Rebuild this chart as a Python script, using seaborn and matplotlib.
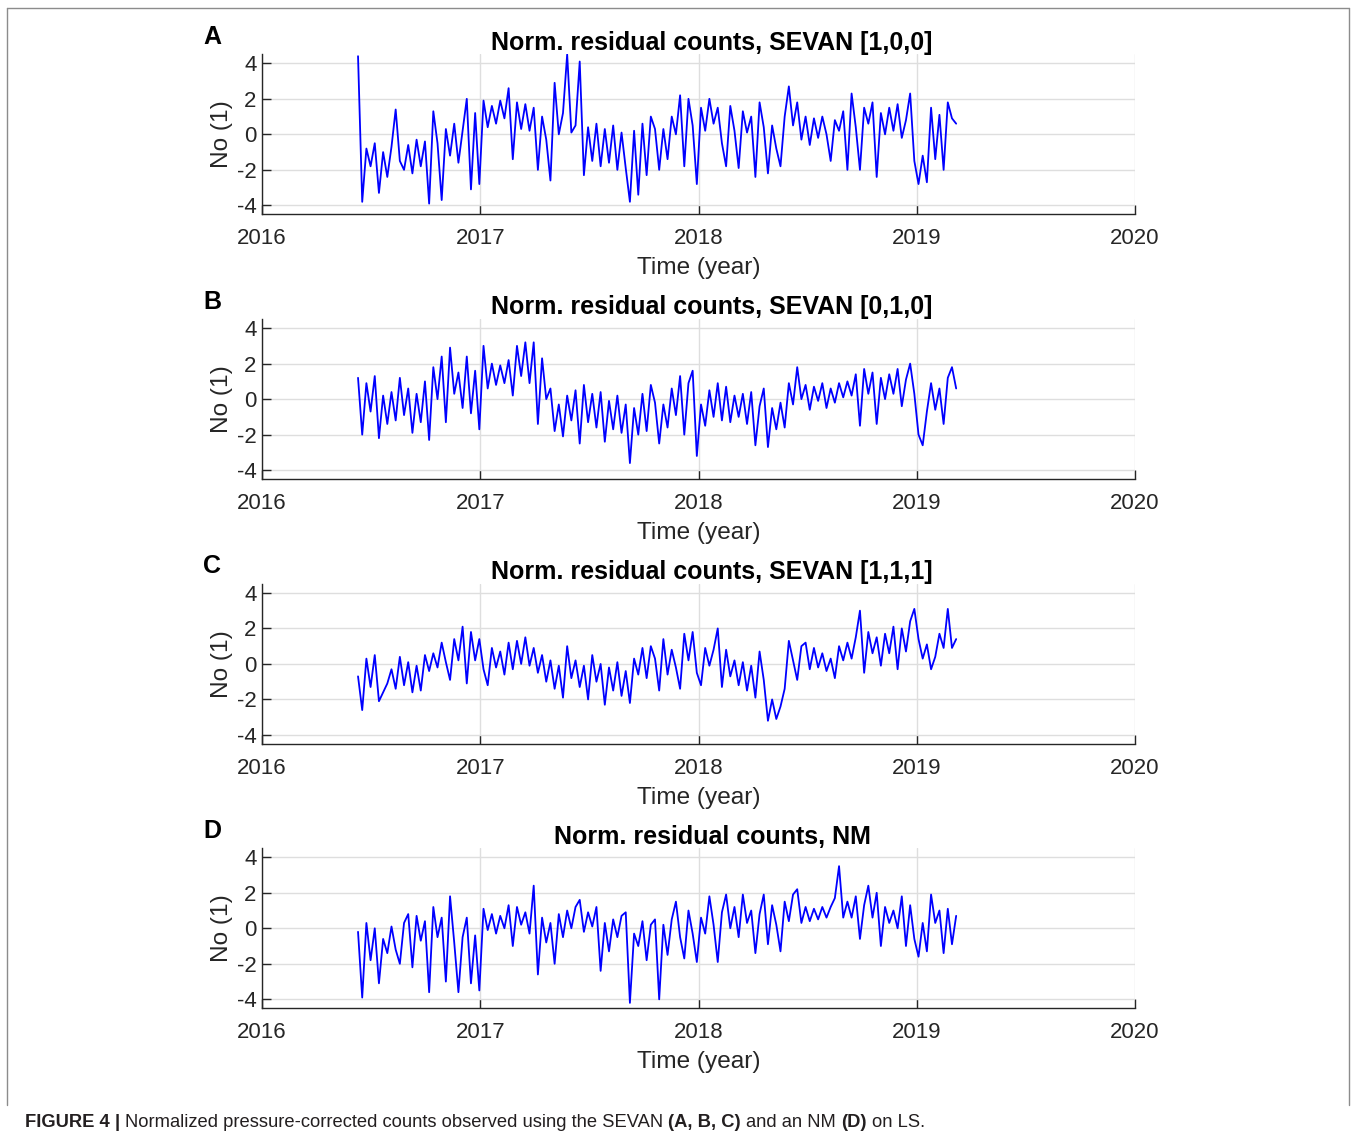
import numpy as np
import matplotlib
matplotlib.use('Agg')
import matplotlib.pyplot as plt
import seaborn as sns
from matplotlib import font_manager
from matplotlib.lines import Line2D

# weekly samples, first one mid June 2016
start_year = 2016.44
week = 7 / 365.25

sevan_100 = [
    4.4, -3.8, -0.8, -1.8, -0.5, -3.3, -1.0, -2.4, -0.7, 1.4, -1.5, -2.0,
    -0.6, -2.2, -0.3, -1.8, -0.4, -3.9, 1.3, -0.5, -3.7, 0.3, -1.2, 0.6,
    -1.6, 0.2, 2.0, -3.1, 1.2, -2.8, 1.9, 0.4, 1.6, 0.6, 1.9, 0.9,
    2.6, -1.4, 1.8, 0.3, 1.7, 0.2, 1.5, -2.0, 1.0, -0.3, -2.6, 2.9,
    0.0, 1.2, 4.5, 0.1, 0.5, 4.1, -2.3, 0.4, -1.5, 0.6, -1.8, 0.3,
    -1.6, 0.5, -2.0, 0.1, -1.9, -3.8, 0.2, -3.4, 0.6, -2.3, 1.0, 0.3,
    -2.0, 0.3, -1.4, 1.0, 0.0, 2.2, -1.8, 2.0, 0.5, -2.8, 1.5, 0.2,
    2.0, 0.6, 1.5, -0.5, -1.8, 1.6, 0.2, -1.9, 1.3, 0.1, 1.0, -2.4,
    1.8, 0.4, -2.2, 0.5, -0.8, -1.8, 1.0, 2.7, 0.5, 1.8, -0.3, 1.0,
    -0.6, 0.9, -0.2, 1.0, 0.0, -1.5, 0.8, 0.2, 1.3, -2.0, 2.3, 0.4,
    -2.0, 1.5, 0.6, 1.8, -2.4, 1.2, 0.0, 1.5, 0.2, 1.7, -0.2, 0.8,
    2.3, -1.5, -2.8, -1.2, -2.7, 1.5, -1.4, 1.1, -2.0, 1.8, 0.9, 0.6,
]

sevan_010 = [
    1.2, -2.0, 0.9, -0.7, 1.3, -2.2, 0.2, -1.4, 0.4, -1.2, 1.2, -0.9,
    0.6, -1.9, 0.3, -1.3, 1.0, -2.3, 1.8, 0.0, 2.4, -1.3, 2.9, 0.3,
    1.5, -0.5, 2.4, -0.8, 1.6, -1.7, 3.0, 0.6, 2.0, 0.8, 1.9, 0.9,
    2.2, 0.2, 3.0, 1.3, 3.2, 0.9, 3.2, -1.4, 2.3, 0.0, 0.6, -1.8,
    -0.3, -2.1, 0.2, -1.2, 0.5, -2.5, 0.8, -1.3, 0.3, -1.6, 0.4, -2.4,
    -0.1, -1.7, 0.2, -1.9, -0.3, -3.6, -0.5, -2.0, 0.3, -1.8, 0.8, -0.2,
    -2.5, -0.3, -1.6, 0.6, -0.9, 1.3, -2.0, 0.9, 1.6, -3.2, -0.3, -1.5,
    0.5, -1.0, 0.9, -1.2, 0.7, -1.3, 0.2, -1.0, 0.3, -1.4, 0.4, -2.6,
    -0.4, 0.6, -2.7, -0.5, -1.7, -0.2, -1.6, 0.9, -0.3, 1.8, 0.0, 0.8,
    -0.6, 0.7, -0.1, 0.9, -0.5, 0.6, -0.2, 0.9, 0.1, 1.0, 0.2, 1.4,
    -1.5, 1.7, 0.3, 1.5, -1.4, 1.2, 0.0, 1.4, 0.3, 1.7, -0.4, 1.1,
    2.0, 0.3, -2.0, -2.6, -0.7, 0.9, -0.6, 0.6, -1.4, 1.2, 1.8, 0.6,
]

sevan_111 = [
    -0.7, -2.6, 0.3, -1.3, 0.5, -2.1, -1.6, -1.1, -0.3, -1.4, 0.4, -1.2,
    0.1, -1.6, -0.1, -1.5, 0.5, -0.4, 0.6, -0.2, 1.2, 0.1, -0.9, 1.4,
    0.2, 2.1, -1.1, 1.8, 0.2, 1.4, -0.3, -1.2, 0.9, -0.2, 0.7, -0.6,
    1.2, -0.3, 1.3, 0.0, 1.5, -0.1, 0.9, -0.5, 0.5, -1.0, 0.2, -1.4,
    -0.1, -1.9, 1.0, -0.8, 0.2, -1.3, -0.1, -2.0, 0.5, -1.0, 0.0, -2.3,
    -0.2, -1.5, 0.1, -1.8, -0.4, -2.2, 0.3, -0.6, 0.9, -0.8, 1.0, 0.3,
    -1.5, 1.4, -0.6, 0.8, -0.2, -1.4, 1.7, 0.2, 1.8, -0.5, -1.2, 0.9,
    -0.1, 0.8, 2.0, -1.3, 0.8, -0.7, 0.2, -1.2, 0.1, -1.5, -0.1, -1.9,
    0.7, -0.9, -3.2, -2.0, -3.1, -2.4, -1.4, 1.3, 0.2, -0.9, 1.0, 1.2,
    -0.3, 0.9, -0.2, 0.6, -0.4, 0.3, -0.8, 1.0, 0.2, 1.2, 0.3, 1.5,
    3.0, -0.5, 1.8, 0.6, 1.5, -0.1, 1.7, 0.6, 2.1, -0.3, 2.0, 0.7,
    2.4, 3.1, 1.4, 0.3, 1.1, -0.3, 0.4, 1.7, 0.9, 3.1, 0.9, 1.4,
]

nm = [
    -0.2, -3.9, 0.3, -1.8, 0.0, -3.1, -0.6, -1.4, 0.1, -1.2, -2.0, 0.3,
    0.8, -2.2, 0.7, -0.7, 0.4, -3.6, 1.2, -0.5, 0.6, -3.0, 1.8, -0.8,
    -3.6, -0.5, 0.6, -3.1, -0.4, -3.5, 1.1, -0.1, 0.8, -0.3, 0.7, 0.0,
    1.3, -1.0, 1.2, 0.2, 0.9, -0.3, 2.4, -2.6, 0.6, -0.8, 0.3, -2.0,
    0.8, -0.5, 1.0, 0.0, 1.2, 1.6, -0.2, 0.9, 0.1, 1.2, -2.4, 0.3,
    -1.3, 0.5, -0.5, 0.7, 0.9, -4.2, -0.3, -1.0, 0.4, -1.8, 0.2, 0.5,
    -4.0, 0.2, -1.5, 0.5, 1.5, -0.5, -1.7, 1.0, -0.3, -1.9, 0.6, -0.3,
    1.8, 0.2, -1.9, 0.9, 1.9, 0.0, 1.2, -0.5, 1.9, 0.3, 1.0, -1.4,
    0.8, 1.9, -0.9, 1.3, 0.2, -1.3, 1.5, 0.4, 1.9, 2.2, 0.3, 1.2,
    0.4, 1.1, 0.5, 1.2, 0.6, 1.2, 1.7, 3.5, 0.6, 1.5, 0.6, 1.8,
    -0.6, 1.3, 2.4, 0.6, 2.0, -1.0, 1.2, 0.3, 1.0, 0.0, 1.8, -1.0,
    1.3, -0.6, -1.6, 0.3, -1.3, 1.9, 0.3, 1.0, -1.4, 1.1, -0.9, 0.7,
]

series = [sevan_100, sevan_010, sevan_111, nm]
titles = [
    'Norm. residual counts, SEVAN [1,0,0]',
    'Norm. residual counts, SEVAN [0,1,0]',
    'Norm. residual counts, SEVAN [1,1,1]',
    'Norm. residual counts, NM',
]
letters = ['A', 'B', 'C', 'D']
year_ticks = [2016, 2017, 2018, 2019, 2020]
count_ticks = [-4, -2, 0, 2, 4]

caption_parts = [
    ('FIGURE 4', 'bold'),
    ('|', 'bold'),
    ('Normalized pressure-corrected counts observed using the SEVAN', 'normal'),
    ('(A, B, C)', 'bold'),
    ('and an NM', 'normal'),
    ('(D)', 'bold'),
    ('on LS.', 'normal'),
]

sns.set_theme(style='white')
plt.rcParams['font.family'] = ['Liberation Sans', 'DejaVu Sans']
plt.rcParams['axes.unicode_minus'] = False

axis_grey = '#262626'

fig = plt.figure(figsize=(13.55, 11.36), dpi=100)
W, H = 1355, 1136

bottoms = [0.8114, 0.5783, 0.3452, 0.1125]
for vals, title, letter, b in zip(series, titles, letters, bottoms):
    ax = fig.add_axes([262 / W, b, 873 / W, 0.1407])
    t = start_year + np.arange(len(vals)) * week
    sns.lineplot(x=t, y=vals, ax=ax, color='#0000ff', linewidth=1.3)

    ax.set_xlim(2016, 2020)
    ax.set_ylim(-4.5, 4.5)
    ax.set_xticks(year_ticks)
    ax.set_xticklabels([str(y) for y in year_ticks])
    ax.set_yticks(count_ticks)
    ax.grid(True, color='#dedede', linewidth=1.0)
    ax.set_axisbelow(True)
    for side in ['top', 'right']:
        ax.spines[side].set_visible(False)
    for side in ['left', 'bottom']:
        ax.spines[side].set_color(axis_grey)
        ax.spines[side].set_linewidth(1.0)
    ax.tick_params(direction='in', length=6.5, width=1.0, color=axis_grey,
                   labelcolor=axis_grey, labelsize=16, bottom=True, left=True)
    ax.tick_params(axis='x', pad=10)
    ax.tick_params(axis='y', pad=4)
    ax.set_xlabel('Time (year)', fontsize=17.6, color=axis_grey, labelpad=6)
    ax.set_ylabel('No (1)', fontsize=17.6, color=axis_grey, labelpad=3)

    ax.text(0.5155, 1.03, title, transform=ax.transAxes, ha='center',
            va='baseline', fontsize=18, fontweight='bold', color='black')
    ax.text(-0.057, 1.11, letter, transform=ax.transAxes, ha='center',
            va='center', fontsize=18, fontweight='bold', color='black')

# open frame around the figure panel
frame = dict(transform=fig.transFigure, color='#8c8c8c', linewidth=1.0)
fig.add_artist(Line2D([7 / W, 7 / W], [1 - 1105 / H, 1 - 8 / H], **frame))
fig.add_artist(Line2D([7 / W, 1349 / W], [1 - 8 / H, 1 - 8 / H], **frame))
fig.add_artist(Line2D([1349 / W, 1349 / W], [1 - 1105 / H, 1 - 8 / H], **frame))

# caption, mixed bold and regular pieces laid out one after another
names = {f.name for f in font_manager.fontManager.ttflist}
cap_font = 'Liberation Sans Narrow' if 'Liberation Sans Narrow' in names else 'Liberation Sans'
cap_size = 13.2
fig.canvas.draw()
renderer = fig.canvas.get_renderer()
probe_a = fig.text(0, 0, 'aa', fontsize=cap_size, family=[cap_font, 'DejaVu Sans'])
probe_b = fig.text(0, 0, 'a a', fontsize=cap_size, family=[cap_font, 'DejaVu Sans'])
space = (probe_b.get_window_extent(renderer).width
         - probe_a.get_window_extent(renderer).width)
probe_a.remove()
probe_b.remove()

x = 25.0
for piece, weight in caption_parts:
    txt = fig.text(x / W, 1 - 1127 / H, piece, fontsize=cap_size, fontweight=weight,
                   family=[cap_font, 'DejaVu Sans'], ha='left', va='baseline',
                   color='#231f20')
    x += txt.get_window_extent(renderer).width + space

fig.savefig('out.png', dpi=100)
